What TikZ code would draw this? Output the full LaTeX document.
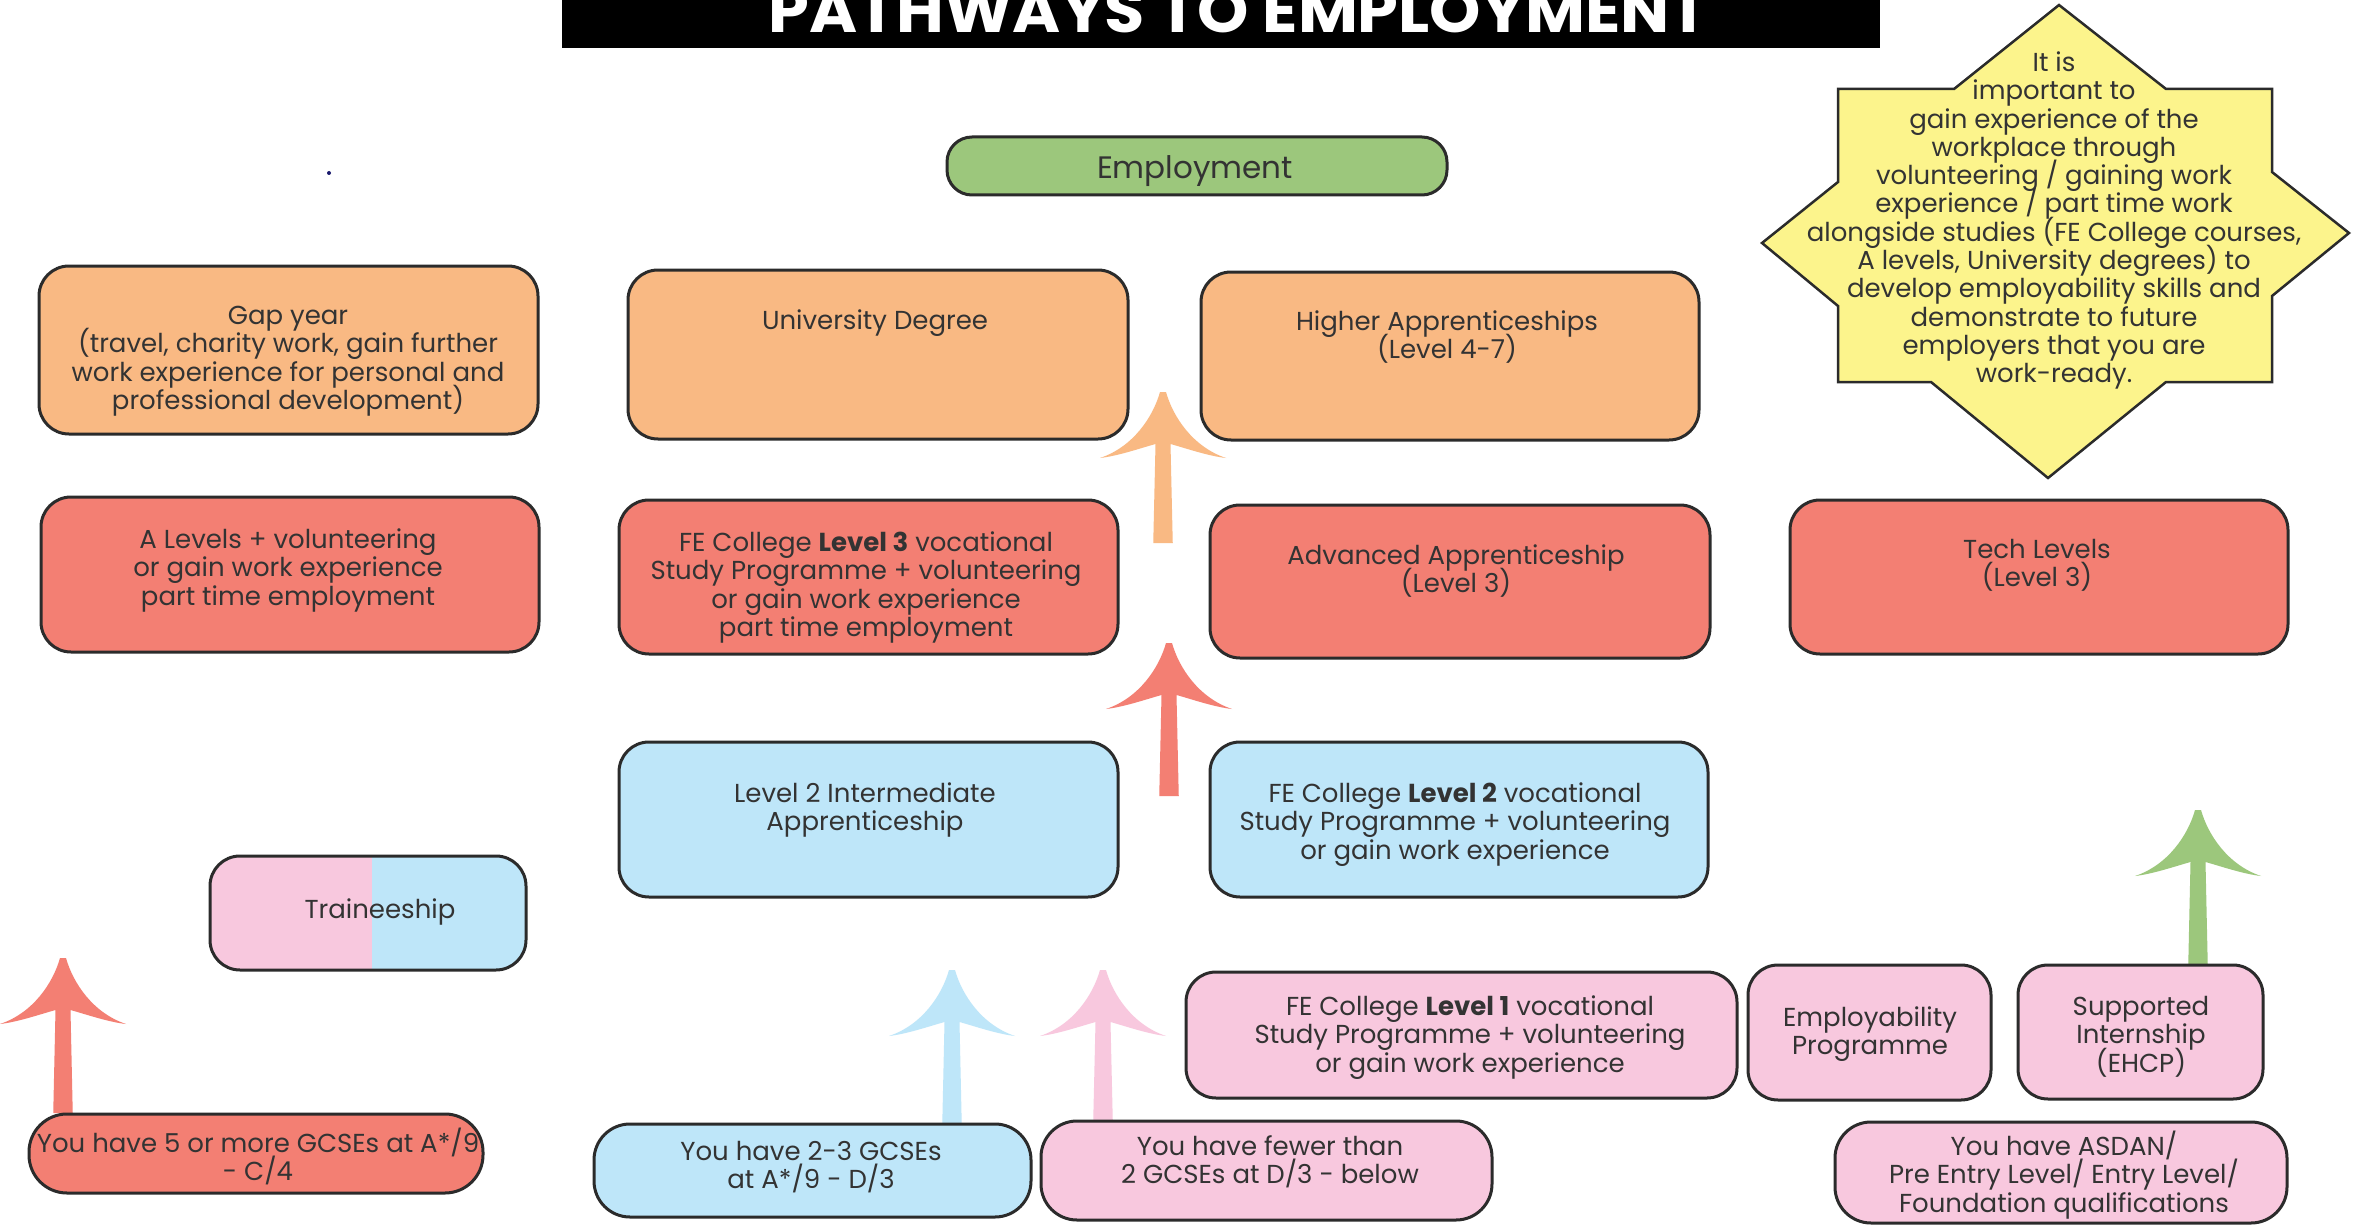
\documentclass[tikz,border=0pt]{standalone}
\usepackage{fontspec}
\setmainfont{Poppins}
\usepackage{graphicx}
\usepackage{array}
\definecolor{orangeF}{HTML}{F9B983}
\definecolor{redF}{HTML}{F37F73}
\definecolor{blueF}{HTML}{BEE6F9}
\definecolor{pinkF}{HTML}{F8C8DE}
\definecolor{greenF}{HTML}{9CC77C}
\definecolor{yellowF}{HTML}{FCF48C}
\definecolor{bordc}{HTML}{2B2B2B}
\definecolor{textc}{HTML}{333333}
\definecolor{navy}{HTML}{1A1A6E}
\newcolumntype{F}{>{\setbox0=\hbox\bgroup}c<{\egroup\ht0=19.8pt \dp0=8.5pt \box0}}
\tikzset{
  box/.style={rectangle, rounded corners=30, draw=bordc, line width=3, inner sep=0},
  txt/.style={inner sep=0, text=textc, yshift=-2.5pt, font=\fontsize{26}{28.3}\selectfont},
  pics/uparr/.style n args={2}{code={
    \fill[#1] (-3,0) -- (3,0) .. controls (10,25) and (30,55) .. (63,66)
      .. controls (45,64) and (22,56) .. (7.5,52) -- (9.75,#2) -- (-9.75,#2) -- (-7.5,52)
      .. controls (-22,56) and (-45,64) .. (-63,66)
      .. controls (-30,55) and (-10,25) .. (-3,0) -- cycle;}}
}
\newcommand\bx[7][]{\node[box, fill=#3, minimum width={#6-#4}, minimum height={#7-#5}, #1] (#2) at ({(#4+#6)/2},{(#5+#7)/2}) {};}
\newcommand\tx[4]{\node[txt, anchor=base] (#1) at (#2,#3) {\renewcommand\arraystretch{0}\begin{tabular}[t]{@{}F@{}}#4\end{tabular}};}
\begin{document}
\begin{tikzpicture}[x=1pt,y=-1pt]
\useasboundingbox (0,0) rectangle (2356,1225);
\clip (0,0) rectangle (2356,1225);
\fill[white] (0,0) rectangle (2356,1225);

% title
\node[fill=black, minimum width=1318, minimum height=48, inner sep=0, anchor=north west] (titlebox) at (562,0) {};
\node[anchor=base, inner sep=0, text=white] (title) at (1238.5,33) {\resizebox{939pt}{44pt}{\bfseries PATHWAYS TO EMPLOYMENT}};

% star
\filldraw[fill=yellowF, draw=bordc, line width=2.5, line join=miter]
  (2059,5) -- (2166,89) -- (2272,89) -- (2272,172) -- (2349,233) -- (2272,296) -- (2272,382)
  -- (2166,382) -- (2048,478) -- (1931,382) -- (1838,382) -- (1838,306) -- (1762,243)
  -- (1838,182) -- (1838,89) -- (1954,89) -- cycle;

% dot
\fill[navy] (329,173) circle (2);

% arrows
\pic (arO) at (1163,392) {uparr={orangeF}{151}};
\pic (arR) at (1169,643) {uparr={redF}{153}};
\pic (arL) at (63,958) {uparr={redF}{155}};
\pic (arB) at (952,970) {uparr={blueF}{155}};
\pic (arP) at (1103,970) {uparr={pinkF}{150}};
\pic (arG) at (2198,810) {uparr={greenF}{155}};

% boxes
\bx[rounded corners=25]{employ}{greenF}{947}{137}{1447}{195}
\bx{gap}{orangeF}{39}{266}{538}{434}
\bx{uni}{orangeF}{628}{270}{1128}{439}
\bx{high}{orangeF}{1201}{272}{1699}{440}
\bx{alev}{redF}{41}{497}{539}{652}
\bx{fe3}{redF}{619}{500}{1118}{654}
\bx{adv}{redF}{1210}{505}{1710}{658}
\bx{tech}{redF}{1790}{500}{2288}{654}
\bx{lvl2}{blueF}{619}{742}{1118}{897}
\bx{fe2}{blueF}{1210}{742}{1708}{897}
\bx[path picture={\fill[pinkF, sharp corners] (path picture bounding box.north west) rectangle ([xshift=162pt]path picture bounding box.south west);}]{train}{blueF}{210}{856}{526}{970}
\bx{fe1}{pinkF}{1186}{972}{1737}{1098}
\bx{empp}{pinkF}{1748}{965}{1991}{1100}
\bx{supp}{pinkF}{2018}{965}{2263}{1099}
\bx[rounded corners=38]{five}{redF}{29}{1114}{483}{1193}
\bx[rounded corners=36]{two}{blueF}{594}{1124}{1031}{1217}
\bx[rounded corners=36]{few}{pinkF}{1041}{1121}{1492}{1220}
\bx[rounded corners=36]{asd}{pinkF}{1835}{1122}{2287}{1223}

% texts
\node[txt, font=\fontsize{31}{36}\selectfont, anchor=base] (temploy) at (1195,176) {Employment};
\tx{tgap}{288}{322}{Gap year\\(travel, charity work, gain further\\work experience for personal and\\professional development)}
\tx{tuni}{875}{327}{University Degree}
\tx{thigh}{1447}{328}{Higher Apprenticeships\\(Level 4-7)}
\tx{tal}{288}{546}{A Levels + volunteering\\or gain work experience\\part time employment}
\tx{tfe3}{866}{549}{FE College \textbf{Level 3} vocational\\Study Programme + volunteering\\or gain work experience\\part time employment}
\tx{tadv}{1456}{562}{Advanced Apprenticeship\\(Level 3)}
\tx{ttech}{2037}{556}{Tech Levels\\(Level 3)}
\tx{tl2}{865}{800}{Level 2 Intermediate\\Apprenticeship}
\tx{tfe2}{1455}{800}{FE College \textbf{Level 2} vocational\\Study Programme + volunteering\\or gain work experience}
\tx{ttrain}{380}{916}{Traineeship}
\tx{tfe1}{1470}{1013}{FE College \textbf{Level 1} vocational\\Study Programme + volunteering\\or gain work experience}
\tx{temp}{1870}{1024}{Employability\\Programme}
\tx{tsup}{2141}{1013}{Supported\\Internship\\(EHCP)}
\tx{tfive}{258}{1150}{You have 5 or more GCSEs at A*/9\\- C/4}
\tx{t23}{811}{1158}{You have 2-3 GCSEs\\at A*/9 - D/3}
\tx{tfew}{1270}{1153}{You have fewer than\\2 GCSEs at D/3 - below}
\tx{tasd}{2064}{1153}{You have ASDAN/\\Pre Entry Level/ Entry Level/\\Foundation qualifications}
\tx{tstar}{2054}{69}{It is\\important to\\gain experience of the\\workplace through\\volunteering / gaining work\\experience / part time work\\alongside studies (FE College courses,\\A levels, University degrees) to\\develop employability skills and\\demonstrate to future\\employers that you are\\work-ready.}
\end{tikzpicture}
\end{document}
